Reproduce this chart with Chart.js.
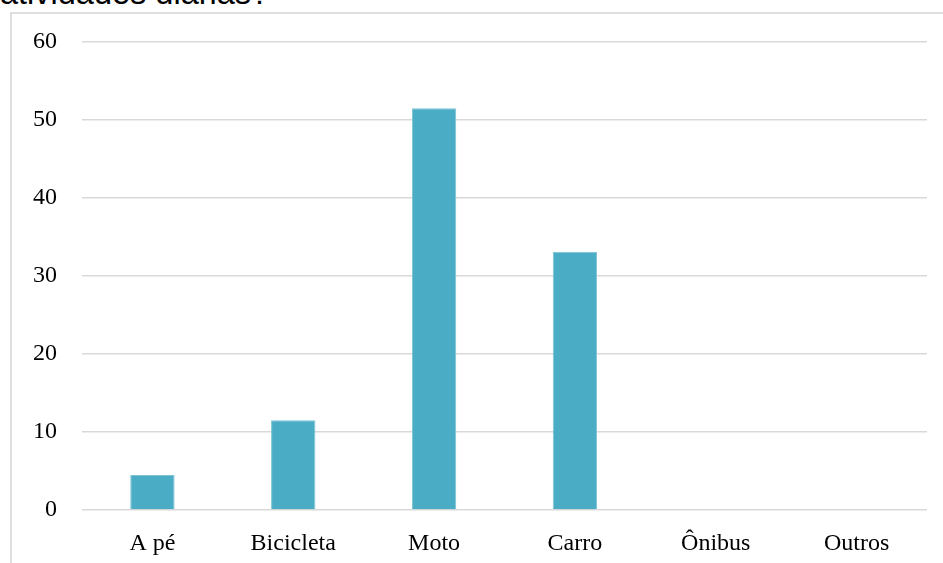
<!DOCTYPE html>
<html>
<head>
<meta charset="utf-8">
<script src="https://cdn.jsdelivr.net/npm/chart.js@4/dist/chart.umd.min.js"></script>
<style>
  html, body { margin: 0; padding: 0; background: #fff; overflow: hidden; }
  body { width: 943px; height: 563px; position: relative; }
  #title {
    position: absolute; left: 0; top: -23px;
    font-family: "Liberation Sans", Arial, sans-serif; font-size: 32.5px;
    color: #000; white-space: nowrap; line-height: 1;
  }
  #frame {
    position: absolute; left: 10px; top: 12px; width: 940px; height: 600px;
    border: 2px solid #dedede; box-sizing: border-box;
  }
  #c { position: absolute; left: 0; top: 0; }
</style>
</head>
<body>
<div id="title">atividades diárias?</div>
<div id="frame"></div>
<canvas id="c" width="943" height="563"></canvas>
<script>
// data
const categories = ['A pé', 'Bicicleta', 'Moto', 'Carro', 'Ônibus', 'Outros'];
const values = [4.5, 11.5, 51.5, 33.1, 0, 0];
const yMax = 60;
const yStep = 10;

const serif = '"Liberation Serif", "Times New Roman", serif';

new Chart(document.getElementById('c'), {
  type: 'bar',
  data: {
    labels: categories,
    datasets: [{
      data: values,
      backgroundColor: '#4BACC6',
      borderColor: '#7dc3d5',
      borderWidth: 1,
      barPercentage: 0.315,
      categoryPercentage: 1
    }]
  },
  options: {
    responsive: false,
    animation: false,
    layout: { padding: { top: 42, right: 16, left: 0, bottom: 0 } },
    plugins: { legend: { display: false }, tooltip: { enabled: false } },
    scales: {
      x: {
        grid: { display: false, drawTicks: false },
        border: { display: false },
        ticks: { font: { family: serif, size: 24 }, color: '#000', padding: 19 },
        afterFit: s => { s.height = 53; }
      },
      y: {
        min: 0, max: yMax,
        grid: { color: '#d9d9d9', lineWidth: 1.5, drawTicks: false },
        border: { display: false },
        ticks: { stepSize: yStep, font: { family: serif, size: 24 }, color: '#000', padding: 25 },
        afterFit: s => { s.width = 82; }
      }
    }
  }
});
</script>
</body>
</html>
